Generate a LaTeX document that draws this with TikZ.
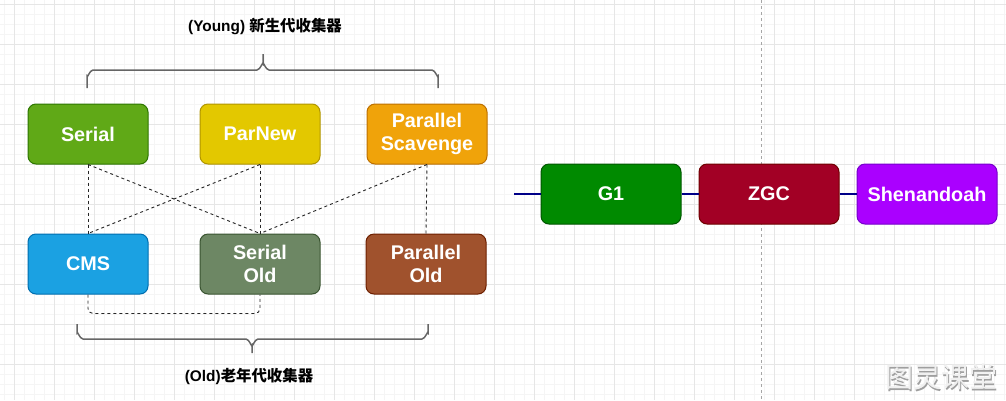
\documentclass[tikz,border=0pt]{standalone}
\usepackage{fontspec}
\setmainfont{Liberation Sans}
\newfontfamily\cjk{Noto Sans CJK SC}
\definecolor{minorg}{HTML}{F5F5F5}
\definecolor{majorg}{HTML}{E6E6E6}
\definecolor{fSerial}{HTML}{60A917}\definecolor{sSerial}{HTML}{2D7600}
\definecolor{fParNew}{HTML}{E3C800}\definecolor{sParNew}{HTML}{B09500}
\definecolor{fPS}{HTML}{F0A30A}\definecolor{sPS}{HTML}{BD7000}
\definecolor{fCMS}{HTML}{1BA1E2}\definecolor{sCMS}{HTML}{006EAF}
\definecolor{fSO}{HTML}{6D8764}\definecolor{sSO}{HTML}{3A5431}
\definecolor{fPO}{HTML}{A0522D}\definecolor{sPO}{HTML}{6D1F00}
\definecolor{fGone}{HTML}{008A00}\definecolor{sGone}{HTML}{005700}
\definecolor{fZGC}{HTML}{A20025}\definecolor{sZGC}{HTML}{6F0000}
\definecolor{fShen}{HTML}{AA00FF}\definecolor{sShen}{HTML}{7700CC}
\definecolor{navyline}{HTML}{000088}
\definecolor{bracegray}{HTML}{666666}
\begin{document}
\begin{tikzpicture}[x=1pt,y=-1pt,
  minorgrid/.style={draw=minorg,line width=0.8pt},
  majorgrid/.style={draw=majorg,line width=0.8pt},
  gcbox/.style={rectangle,rounded corners=8pt,minimum width=120pt,minimum height=60pt,
    inner sep=0pt,line width=1pt,text=white,align=center,
    font=\fontsize{19.8}{23}\selectfont\bfseries},
  widebox/.style={gcbox,minimum width=140pt},
  dashline/.style={draw=black!85,line width=0.9pt,dash pattern=on 3pt off 3pt},
  navy/.style={draw=navyline,line width=1.8pt},
  bracestyle/.style={draw=bracegray,line width=1.5pt},
  grouplabel/.style={font=\fontsize{15.4}{18}\selectfont\bfseries,text=black,inner sep=0pt}
]
\useasboundingbox (0,0) rectangle (1006,400);
\fill[white] (0,0) rectangle (1006,400);
% grid
\foreach \i in {0,...,100} { \draw[minorgrid] ({\i*10+4},0) -- ({\i*10+4},400); }
\foreach \i in {0,...,39} { \draw[minorgrid] (0,{\i*10+4}) -- (1006,{\i*10+4}); }
\foreach \i in {0,...,24} { \draw[majorgrid] ({\i*40+14},0) -- ({\i*40+14},400); }
\foreach \i in {0,...,9} { \draw[majorgrid] (0,{\i*40+4}) -- (1006,{\i*40+4}); }
% separator
\draw[draw=gray!70,line width=0.8pt,dash pattern=on 3pt off 3pt] (761,0) -- (761,400);

% nodes
\node[gcbox,fill=fSerial,draw=sSerial] (serial) at (88,134) {Serial};
\node[gcbox,fill=fParNew,draw=sParNew] (parnew) at (260,134) {ParNew};
\node[gcbox,fill=fPS,draw=sPS] (ps) at (427,134) {Parallel\\Scavenge};
\node[gcbox,fill=fCMS,draw=sCMS] (cms) at (88,264) {CMS};
\node[gcbox,fill=fSO,draw=sSO] (sold) at (260,264) {Serial\\Old};
\node[gcbox,fill=fPO,draw=sPO] (pold) at (426,264) {Parallel\\Old};

\node[widebox,fill=fGone,draw=sGone] (g1) at (611,194) {G1};
\node[widebox,fill=fZGC,draw=sZGC] (zgc) at (769,194) {ZGC};
\node[widebox,fill=fShen,draw=sShen] (shen) at (927,194) {Shenandoah};

% dashed connections
\draw[dashline] (serial.south) -- (cms.north);
\draw[dashline] (serial.south) -- (sold.north);
\draw[dashline] (parnew.south) -- (cms.north);
\draw[dashline] (parnew.south) -- (sold.north);
\draw[dashline] (ps.south) -- (sold.north);
\draw[dashline] (ps.south) -- (pold.north);
\draw[dashline,rounded corners=5pt] (cms.south) -- ++(0,19) -| (sold.south);

% right chain
\coordinate (start) at (514,194);
\draw[navy] (start) -- (g1.west);
\draw[navy] (g1.east) -- (zgc.west);
\draw[navy] (zgc.east) -- (shen.west);

% braces
\draw[bracestyle] (87,88) -- (87,76) to[out=-90,in=180] (93,70) -- (257,70) to[out=0,in=90] (263,64) -- (263,54);
\draw[bracestyle] (438,88) -- (438,76) to[out=-90,in=0] (432,70) -- (269,70) to[out=180,in=90] (263,64);
\draw[bracestyle] (77,324) -- (77,333) to[out=90,in=180] (83,339) -- (246,339) to[out=0,in=-90] (252,345) -- (252,353);
\draw[bracestyle] (428,324) -- (428,333) to[out=90,in=0] (422,339) -- (258,339) to[out=180,in=-90] (252,345);

% labels
\node[grouplabel] (younglabel) at (265,26) {(Young) {\cjk\bfseries 新生代收集器}};
\node[grouplabel] (oldlabel) at (249,376) {(Old){\cjk\bfseries 老年代收集器}};

% watermark
\node[font=\fontsize{28}{30}\selectfont\cjk,text=gray!75,inner sep=0pt] (wmshadow) at (942.5,378.5) {图灵课堂};
\node[font=\fontsize{28}{30}\selectfont\cjk,text=gray!12,inner sep=0pt] (wm) at (941,377) {图灵课堂};
\end{tikzpicture}
\end{document}
